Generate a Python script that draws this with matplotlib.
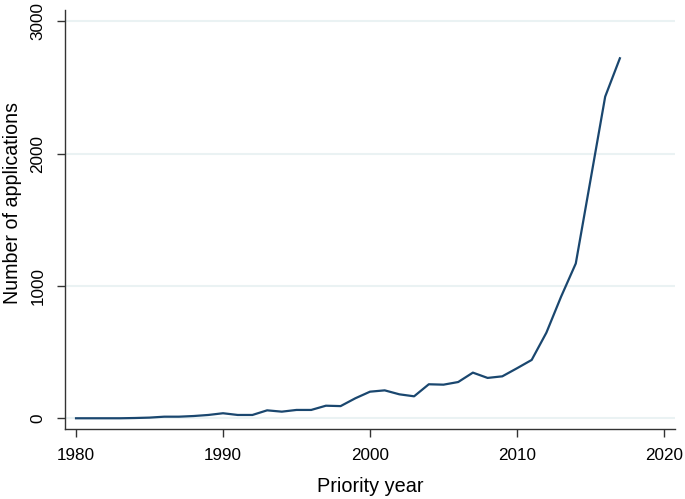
import matplotlib.pyplot as plt

plt.rcParams['font.family'] = ['Liberation Sans', 'DejaVu Sans']

# data
years = list(range(1980, 2018))
applications = [0, 0, 0, 0, 2, 5, 12, 12, 17, 25,
                38, 25, 25, 60, 50, 63, 63, 95, 92, 151,
                201, 211, 181, 166, 257, 254, 274, 345, 305, 317,
                378, 441, 647, 919, 1170, 1800, 2431, 2721]

x_ticks = [1980, 1990, 2000, 2010, 2020]
y_ticks = [0, 1000, 2000, 3000]

fig = plt.figure(figsize=(6.85, 4.99), dpi=100)
ax = fig.add_axes([0.0949, 0.1403, 0.8905, 0.8397])

ax.set_xlim(1979.25, 2020.75)
ax.set_ylim(-81, 3086)

for y in y_ticks:
    ax.axhline(y, color='#eaf2f3', lw=1.5, zorder=0)

ax.plot(years, applications, color='#1a476f', lw=1.6)

ax.set_xticks(x_ticks)
ax.set_yticks(y_ticks)
ax.set_yticklabels([str(v) for v in y_ticks], rotation=90, va='center')
ax.tick_params(axis='both', labelsize=12.3, length=6, width=1,
               color='#333333', pad=8)

for side in ['top', 'right']:
    ax.spines[side].set_visible(False)
for side in ['left', 'bottom']:
    ax.spines[side].set_color('#333333')
    ax.spines[side].set_linewidth(1)

ax.set_xlabel('Priority year', fontsize=14.3, labelpad=10)
ax.set_ylabel('Number of applications', fontsize=14.1, labelpad=6.5)
ax.yaxis.label.set_y(0.539)

fig.savefig('out.png', dpi=100, facecolor='white')
